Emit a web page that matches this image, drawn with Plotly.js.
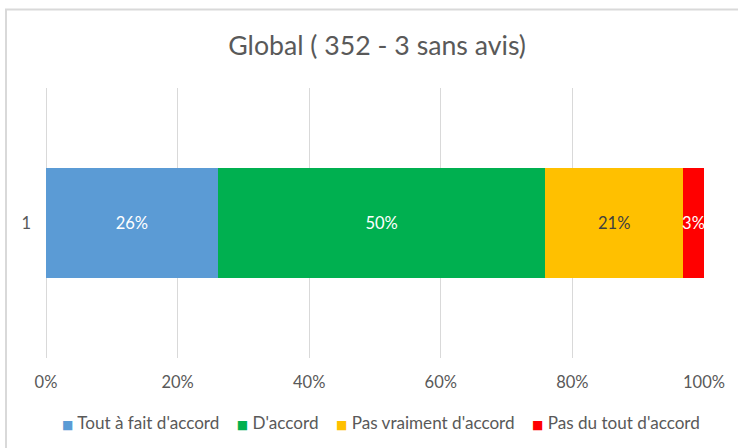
<!DOCTYPE html>
<html>
<head>
<meta charset="utf-8">
<script src="https://cdn.plot.ly/plotly-3.0.1.min.js"></script>
<style>
html,body{margin:0;padding:0;background:#fff;}
#chart{width:738px;height:448px;}
</style>
</head>
<body>
<div id="chart"></div>
<script>
// Data
const categories = ['1'];
const seriesNames = ["Tout à fait d'accord", "D'accord", "Pas vraiment d'accord", "Pas du tout d'accord"];
const seriesValues = [26.1, 49.8, 20.9, 3.2];
const seriesLabels = ['26%', '50%', '21%', '3%'];
const seriesColors = ['#5B9BD5', '#00B050', '#FFC000', '#FF0000'];
const labelColors = ['#FFFFFF', '#FFFFFF', '#404040', '#FFFFFF'];
const xTickVals = [0, 20, 40, 60, 80, 100];
const xTickText = ['0%', '20%', '40%', '60%', '80%', '100%'];
const titleText = 'Global ( 352 - 3 sans avis)';

const FONT = 'Lato, "Open Sans", sans-serif';

const traces = seriesNames.map((name, i) => ({
  type: 'bar',
  orientation: 'h',
  name: name,
  y: categories,
  x: [seriesValues[i]],
  text: [seriesLabels[i]],
  textposition: 'inside',
  insidetextanchor: 'middle',
  textangle: 0,
  constraintext: 'none',
  textfont: {family: FONT, size: 16.5, color: labelColors[i]},
  marker: {color: seriesColors[i], line: {width: 0}},
  width: 0.41,
  hoverinfo: 'skip',
  showlegend: false
}));

// Legend drawn as one centered text line (Excel-style compact legend)
const NB = '\u00A0';
const legendText = seriesNames.map((name, i) =>
  '<span style="color:' + seriesColors[i] + ';font-size:12px;font-family:DejaVu Sans">\u25A0</span>' + NB + name
).join(NB + NB + NB + NB);

const layout = {
  width: 738,
  height: 448,
  margin: {l: 46, r: 34, t: 88, b: 90},
  paper_bgcolor: '#FFFFFF',
  plot_bgcolor: '#FFFFFF',
  barmode: 'stack',
  font: {family: FONT, color: '#595959', size: 16},
  title: {
    text: titleText,
    font: {family: FONT, size: 26.7, color: '#595959'},
    x: 0.511, xanchor: 'center',
    y: 0.898, yanchor: 'middle', yref: 'container'
  },
  xaxis: {
    range: [0, 100],
    tickvals: xTickVals,
    ticktext: xTickText,
    showgrid: true,
    gridcolor: '#D9D9D9',
    gridwidth: 1,
    zeroline: true,
    zerolinecolor: '#D9D9D9',
    zerolinewidth: 1,
    showline: false,
    ticks: '',
    ticklabelstandoff: 12,
    tickfont: {family: FONT, size: 16.5, color: '#595959'},
    fixedrange: true
  },
  yaxis: {
    type: 'category',
    range: [-0.5, 0.5],
    showgrid: false,
    zeroline: false,
    showline: false,
    ticks: '',
    ticklabelstandoff: 14,
    tickfont: {family: FONT, size: 16.5, color: '#595959'},
    fixedrange: true
  },
  showlegend: false,
  annotations: [{
    xref: 'paper', yref: 'paper',
    x: 0.5084, y: -0.2407,
    xanchor: 'center', yanchor: 'middle',
    showarrow: false,
    text: legendText,
    font: {family: FONT, size: 17.1, color: '#595959'}
  }],
  shapes: [{
    type: 'path',
    xref: 'paper', yref: 'paper',
    path: 'M -0.0608 -0.4 L -0.0608 1.2907 L 1.2 1.2907',
    line: {color: '#D9D9D9', width: 2}
  }],
  hovermode: false
};

Plotly.newPlot('chart', traces, layout, {displayModeBar: false, staticPlot: true});
</script>
</body>
</html>
